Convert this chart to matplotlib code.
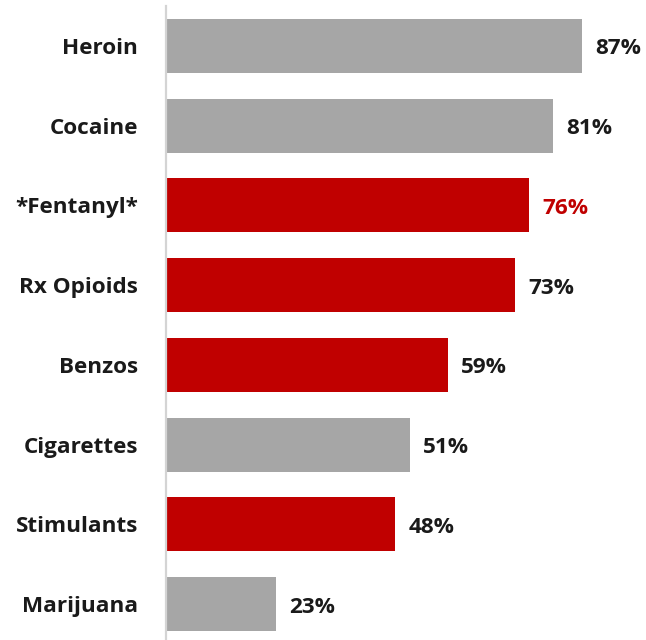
import matplotlib
matplotlib.use("Agg")
import matplotlib.pyplot as plt
from matplotlib.transforms import offset_copy

categories = ["Heroin", "Cocaine", "*Fentanyl*", "Rx Opioids", "Benzos",
              "Cigarettes", "Stimulants", "Marijuana"]
values = [87, 81, 76, 73, 59, 51, 48, 23]
highlight = [False, False, True, True, True, False, True, False]
label_red = [False, False, True, False, False, False, False, False]

GRAY = "#a6a6a6"
RED = "#c00000"
TEXT = "#1a1a1a"

plt.rcParams["font.family"] = ["Open Sans", "DejaVu Sans"]

W, H = 646, 640
fig = plt.figure(figsize=(W / 100, H / 100), dpi=100)
ax = fig.add_axes([166 / W, 0, (644 - 166) / W, 634 / H])

ypos = list(range(len(categories)))
colors = [RED if h else GRAY for h in highlight]
ax.barh(ypos, values, height=0.68, color=colors, edgecolor="none", zorder=2)

ax.set_xlim(0, 100)
ax.set_ylim(7.45, -0.5)

for s in ("top", "right", "bottom"):
    ax.spines[s].set_visible(False)
ax.spines["left"].set_color("#d4d4d4")
ax.spines["left"].set_linewidth(1.6)
ax.set_xticks([])
ax.set_yticks(ypos)
ax.set_yticklabels(categories, fontsize=16.2, fontweight="bold", color=TEXT)
ax.tick_params(axis="y", length=0, pad=20)

val_tr = offset_copy(ax.transData, fig=fig, x=13, y=-3, units="dots")
for y, v, r in zip(ypos, values, label_red):
    ax.text(v, y, f"{v}%", transform=val_tr, ha="left", va="center",
            fontsize=16.2, fontweight="bold", color=RED if r else TEXT)

fig.savefig("out.png", dpi=100)
